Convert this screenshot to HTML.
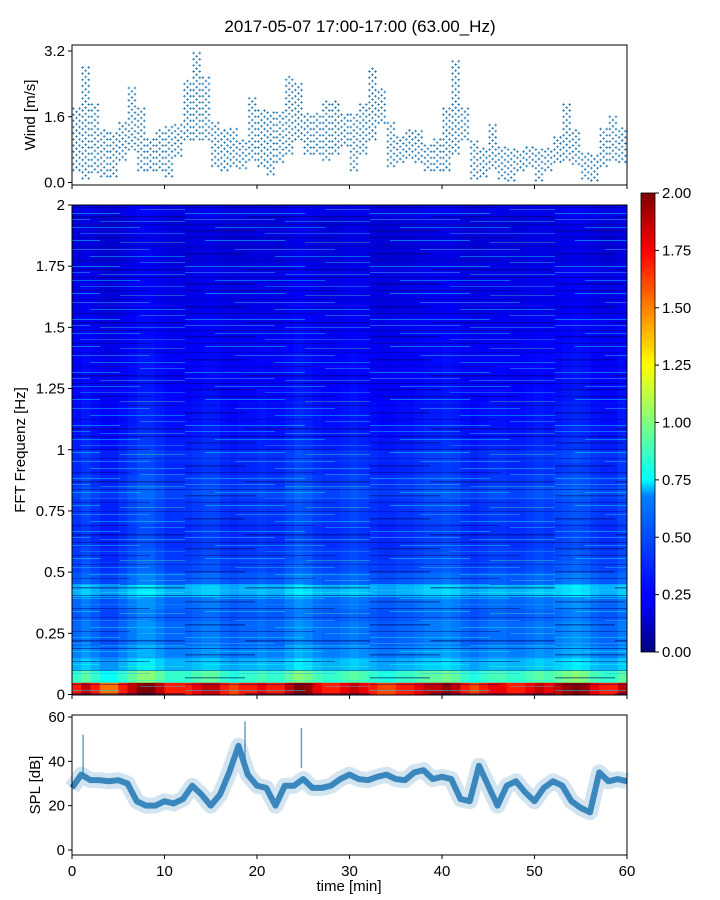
<!DOCTYPE html>
<html><head><meta charset="utf-8"><style>
body{margin:0;background:#fff;}
svg{display:block;font-family:"Liberation Sans","DejaVu Sans",sans-serif;}
</style></head><body>
<svg id="c" width="720" height="900" viewBox="0 0 720 900" xmlns="http://www.w3.org/2000/svg">
<defs>
<linearGradient id="jet" x1="0" y1="1" x2="0" y2="0">
<stop offset="0" stop-color="#00007f"/><stop offset="0.11" stop-color="#0000ff"/><stop offset="0.125" stop-color="#0000ff"/>
<stop offset="0.34" stop-color="#0080ff"/><stop offset="0.375" stop-color="#00ffff"/><stop offset="0.5" stop-color="#7fff7f"/>
<stop offset="0.625" stop-color="#ffff00"/><stop offset="0.75" stop-color="#ff8000"/><stop offset="0.875" stop-color="#ff0000"/><stop offset="1" stop-color="#7f0000"/>
</linearGradient>
<pattern id="streaks" width="185" height="53" patternUnits="userSpaceOnUse">
<rect x="0" y="1" width="120" height="1" fill="#00e0ff" opacity="0.5"/>
<rect x="60" y="4" width="125" height="1.5" fill="#000060" opacity="0.45"/>
<rect x="0" y="7" width="90" height="1" fill="#40c0ff" opacity="0.45"/>
<rect x="100" y="9" width="85" height="1" fill="#30ffd0" opacity="0.35"/>
<rect x="0" y="12" width="185" height="1" fill="#000080" opacity="0.5"/>
<rect x="30" y="15" width="110" height="1" fill="#00ffff" opacity="0.4"/>
<rect x="0" y="18" width="70" height="1.5" fill="#000050" opacity="0.4"/>
<rect x="80" y="21" width="105" height="1" fill="#2090ff" opacity="0.5"/>
<rect x="0" y="25" width="150" height="1" fill="#000070" opacity="0.45"/>
<rect x="20" y="28" width="80" height="1" fill="#00ffff" opacity="0.45"/>
<rect x="120" y="30" width="65" height="1" fill="#60ff90" opacity="0.3"/>
<rect x="0" y="34" width="185" height="1" fill="#000090" opacity="0.4"/>
<rect x="50" y="37" width="100" height="1" fill="#30b0ff" opacity="0.5"/>
<rect x="0" y="41" width="60" height="1.5" fill="#000060" opacity="0.45"/>
<rect x="90" y="44" width="95" height="1" fill="#00ffff" opacity="0.4"/>
<rect x="0" y="48" width="130" height="1" fill="#000070" opacity="0.4"/>
<rect x="140" y="50" width="45" height="1" fill="#40d0ff" opacity="0.4"/>
</pattern>
</defs>
<text x="360" y="32" text-anchor="middle" font-size="17">2017-05-07 17:00-17:00 (63.00_Hz)</text>
<g id="wind"></g>
<g id="spec"></g>
<g id="cbar"></g>
<g id="spl"></g>
</svg>
<script>
// ---- data ----
const windLo=[0.3,0.1,0.25,0.15,0.15,0.55,0.8,0.3,0.3,0.3,0.15,0.65,1.05,1.05,1.05,0.4,0.3,0.4,0.35,0.55,0.4,0.2,0.5,0.7,1.05,0.7,0.7,0.55,0.7,0.9,0.3,0.7,1.05,1.45,0.4,0.5,0.6,0.5,0.3,0.3,0.3,0.7,1.05,0.1,0.15,0.35,0.1,0.05,0.3,0.4,0.05,0.3,0.5,0.55,0.45,0.1,0.05,0.4,0.55,0.5];
const windHi=[1.8,2.8,1.9,1.3,1.2,1.5,2.3,1.8,1.1,1.3,1.35,1.45,2.5,3.2,2.6,1.45,1.3,1.3,1.05,2.1,1.8,1.7,1.75,2.6,2.4,1.7,1.7,2.0,2.0,1.7,1.7,1.9,2.8,2.3,1.5,1.1,1.3,1.3,0.9,1.05,1.8,3.0,1.85,1.05,0.85,1.45,0.85,0.8,0.8,0.85,0.8,0.85,1.1,1.95,1.3,0.7,0.7,1.3,1.6,1.35];
const splMean=[28,34,31.5,31.5,31,31.5,30,22,20,20,22,21,23,29,25,20,25,35,47,34,29,28,20,29,29,32,28,28,29,32,34,32,31.5,33,34,32,31.5,35,36,32,33,32,23,22,38,29,20,29,31,26,22,28,31,29,22,19,17,35,31,32,31];
const splPeakTimes=[1.2,18.7,24.8];
const splPeakVals=[52,58,55];
const specRowMean=[1.7,0.85,0.6,0.5,0.45,0.45,0.42,0.45,0.6,0.42,0.38,0.36,0.34,0.33,0.35,0.35,0.38,0.35,0.32,0.34,0.3,0.28,0.27,0.27,0.25,0.24,0.24,0.24,0.23,0.22,0.22,0.2,0.2,0.2,0.2,0.18,0.18,0.18,0.18,0.2];
const specColFactor=[1,1.1,1,0.9,0.9,1,1.1,1.2,1.2,1.1,1,1,1,1.05,1.1,1.1,1,0.95,1,1,1.05,1,1,1.1,1.2,1.15,1.05,1,1,1.05,1.1,1.05,1,0.95,0.95,1,1,1.05,1.1,1.1,1.15,1.1,1,0.95,1,1.05,1.05,1,1,1.05,1.1,1.05,1.1,1.15,1.2,1.15,1.05,1,1,1.1];
const xTicks=[0,10,20,30,40,50,60];
const windTicks=[0.0,1.6,3.2];
const freqTicks=[0,0.25,0.5,0.75,1,1.25,1.5,1.75,2];
const freqTickLabels=["0","0.25","0.5","0.75","1","1.25","1.5","1.75","2"];
const splTicks=[0,20,40,60];
const cbarTicks=[0,0.25,0.5,0.75,1,1.25,1.5,1.75,2];

const NS="http://www.w3.org/2000/svg";
function el(tag,attrs,parent){const e=document.createElementNS(NS,tag);for(const k in attrs)e.setAttribute(k,attrs[k]);parent.appendChild(e);return e;}
const X0=72,X1=627;
const xs=t=>X0+(t/60)*(X1-X0);
const wy=v=>182.5-v*(131.5/3.2);
const fy=f=>694.5-f*(489.5/2);
const sy=v=>850-v*(133/60);
const cy=v=>652-v*(459/2);
function jet(v){let x=Math.max(0,Math.min(1,v/2));
 const r=Math.max(0,Math.min(1,1.5-Math.abs(4*x-3))),g=Math.max(0,Math.min(1,1.5-Math.abs(4*x-2))),b=Math.max(0,Math.min(1,1.5-Math.abs(4*x-1)));
 return `rgb(${Math.round(r*255)},${Math.round(g*255)},${Math.round(b*255)})`;}
function frame(g,y0,y1){const r=el('rect',{x:X0,y:y0,width:X1-X0,height:y1-y0,fill:'none',stroke:'#000','stroke-width':1},g);}
function xTickMarks(g,yb,labels){xTicks.forEach(t=>{el('line',{x1:xs(t),x2:xs(t),y1:yb,y2:yb+4,stroke:'#000'},g);
 if(labels){const tx=el('text',{x:xs(t),y:yb+21,'text-anchor':'middle','font-size':15},g);tx.textContent=t;}});}
function ylab(g,x,y,txt,name){const t=el('text',{x:x,y:y,'text-anchor':'middle','font-size':15,transform:`rotate(-90 ${x} ${y})`},g);t.textContent=txt;}

// ---- wind ----
const W=document.getElementById('wind');
windLo.forEach((lo,i)=>{const hi=windHi[i];
 for(let s=0;s<3;s++){const t=i+s*0.33+0.15;
  for(let v=lo+(s%2)*0.07;v<=hi+0.001;v+=0.15){
   const p=el('path',{d:`M${xs(t)-1.3},${wy(v)}h2.6M${xs(t)},${wy(v)-1.3}v2.6`,stroke:'#1f77b4','stroke-width':0.8},W);
   }}});
frame(W,45,185);xTickMarks(W,185,false);
windTicks.forEach(v=>{el('line',{x1:X0-4,x2:X0,y1:wy(v),y2:wy(v),stroke:'#000'},W);const t=el('text',{x:X0-7,y:wy(v)+5,'text-anchor':'end','font-size':15},W);t.textContent=v.toFixed(1);});
ylab(W,35,115,'Wind [m/s]','wind-y-axis-title');

// ---- spectrogram ----
const S=document.getElementById('spec');
const nr=specRowMean.length,nc=specColFactor.length;
specRowMean.forEach((rm,r)=>{specColFactor.forEach((cf,c)=>{
 const f0=r*2/nr,f1=(r+1)*2/nr;
 const rc=el('rect',{x:xs(c),y:fy(f1),width:xs(c+1)-xs(c)+0.5,height:fy(f0)-fy(f1)+0.5,fill:jet(rm*cf)},S);
 });});
el('rect',{x:X0,y:fy(2),width:X1-X0,height:fy(0)-fy(2),fill:'url(#streaks)'},S);
frame(S,205,695);xTickMarks(S,695,false);
freqTicks.forEach((f,i)=>{el('line',{x1:X0-4,x2:X0,y1:fy(f),y2:fy(f),stroke:'#000'},S);const t=el('text',{x:X0-7,y:fy(f)+5,'text-anchor':'end','font-size':15},S);t.textContent=freqTickLabels[i];});
ylab(S,25,450,'FFT Frequenz [Hz]','freq-y-axis-title');

// ---- colorbar ----
const C=document.getElementById('cbar');
el('rect',{x:641,y:193,width:14,height:459,fill:'url(#jet)',stroke:'#000','stroke-width':0.8},C);
cbarTicks.forEach(v=>{el('line',{x1:655,x2:659,y1:cy(v),y2:cy(v),stroke:'#000'},C);const t=el('text',{x:662,y:cy(v)+5,'font-size':15},C);t.textContent=v.toFixed(2);});

// ---- SPL ----
const P=document.getElementById('spl');
let d='';splMean.forEach((v,i)=>{d+=(i?'L':'M')+xs(i)+','+sy(v);});
const band=el('path',{d:d,fill:'none',stroke:'#1f77b4','stroke-width':16,'stroke-opacity':0.2,'stroke-linejoin':'round'},P);

const core=el('path',{d:d,fill:'none',stroke:'#1f77b4','stroke-width':6,'stroke-opacity':0.85,'stroke-linejoin':'round'},P);

splPeakTimes.forEach((t,i)=>{const pk=el('line',{x1:xs(t),x2:xs(t),y1:sy(splPeakVals[i]),y2:sy(splPeakVals[i]-18),stroke:'#1f77b4','stroke-width':1.5,'stroke-opacity':0.7},P);});
frame(P,715,855);xTickMarks(P,855,true);
splTicks.forEach(v=>{el('line',{x1:X0-4,x2:X0,y1:sy(v),y2:sy(v),stroke:'#000'},P);const t=el('text',{x:X0-7,y:sy(v)+5,'text-anchor':'end','font-size':15},P);t.textContent=v;});
ylab(P,40,785,'SPL [dB]','spl-y-axis-title');
const xt=el('text',{x:349,y:891,'text-anchor':'middle','font-size':15},P);xt.textContent='time [min]';


</script>
</body></html>
